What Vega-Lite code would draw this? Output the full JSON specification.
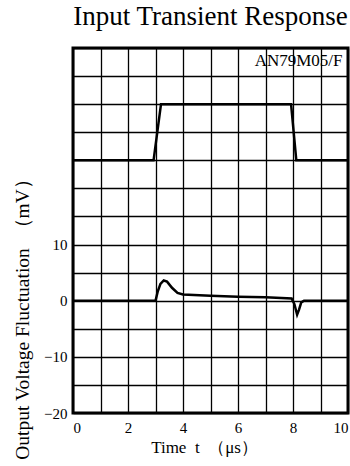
{
  "$schema": "https://vega.github.io/schema/vega-lite/v6.json",
  "width": 275,
  "height": 365,
  "autosize": {"type": "none"},
  "padding": {"left": 73, "top": 48, "right": 2, "bottom": 53},
  "background": "white",
  "title": {"text": "Input Transient Response", "font": "Liberation Serif", "fontSize": 27, "fontWeight": "normal", "color": "black", "anchor": "middle", "offset": 17},
  "config": {
    "view": {"stroke": "black", "strokeWidth": 3},
    "axis": {"labelFont": "Liberation Serif", "titleFont": "Liberation Serif", "labelColor": "black", "titleColor": "black", "titleFontWeight": "normal", "gridColor": "black", "gridOpacity": 1, "gridWidth": 1.3, "domain": false, "ticks": false}
  },
  "datasets": {
    "traces": [
      {"series": "input", "t": 0, "v": 25},
      {"series": "input", "t": 2.93, "v": 25},
      {"series": "input", "t": 3.2, "v": 35},
      {"series": "input", "t": 7.93, "v": 35},
      {"series": "input", "t": 8.12, "v": 25},
      {"series": "input", "t": 10, "v": 25},
      {"series": "output", "t": 0, "v": 0},
      {"series": "output", "t": 3.0, "v": 0},
      {"series": "output", "t": 3.08, "v": 1.6},
      {"series": "output", "t": 3.18, "v": 3.0},
      {"series": "output", "t": 3.3, "v": 3.6},
      {"series": "output", "t": 3.42, "v": 3.4},
      {"series": "output", "t": 3.6, "v": 2.3},
      {"series": "output", "t": 3.8, "v": 1.4},
      {"series": "output", "t": 4.0, "v": 1.1},
      {"series": "output", "t": 5.0, "v": 0.9},
      {"series": "output", "t": 6.0, "v": 0.7},
      {"series": "output", "t": 7.0, "v": 0.6},
      {"series": "output", "t": 7.95, "v": 0.4},
      {"series": "output", "t": 8.05, "v": -0.6},
      {"series": "output", "t": 8.15, "v": -2.5},
      {"series": "output", "t": 8.22, "v": -1.6},
      {"series": "output", "t": 8.3, "v": -0.3},
      {"series": "output", "t": 8.4, "v": 0},
      {"series": "output", "t": 10, "v": 0}
    ],
    "notes": [{"t": 9.8, "v": 42.7, "label": "AN79M05/F"}]
  },
  "layer": [
    {
      "data": {"name": "traces"},
      "mark": {"type": "line", "color": "black", "strokeWidth": 2.5, "clip": true},
      "encoding": {
        "x": {"field": "t", "type": "quantitative", "scale": {"domain": [0, 10], "nice": false},
          "axis": {"values": [0,1,2,3,4,5,6,7,8,9,10], "labelExpr": "datum.value % 2 === 0 ? datum.label : ''", "labelFontSize": 15, "labelPadding": 7, "title": "Time\u00a0\u00a0t\u00a0\u00a0（μs）", "titleFontSize": 17, "titlePadding": 4, "titleX": 131}},
        "y": {"field": "v", "type": "quantitative", "scale": {"domain": [-20, 45], "nice": false, "zero": false},
          "axis": {"values": [-20,-15,-10,-5,0,5,10,15,20,25,30,35,40,45], "labelExpr": "(datum.value % 10 === 0 && datum.value <= 10) ? datum.label : ''", "labelFontSize": 15, "labelPadding": 6, "title": "Output Voltage Fluctuation\u00a0\u00a0（mV）", "titleFontSize": 19.5, "titlePadding": 11, "titleY": 266}},
        "detail": {"field": "series"}
      }
    },
    {
      "data": {"name": "notes"},
      "mark": {"type": "text", "font": "Liberation Serif", "fontSize": 17, "align": "right", "baseline": "middle", "color": "black"},
      "encoding": {
        "x": {"field": "t", "type": "quantitative",
          "axis": {"values": [0,1,2,3,4,5,6,7,8,9,10], "labelExpr": "datum.value % 2 === 0 ? datum.label : ''", "labelFontSize": 15, "labelPadding": 7, "title": "Time\u00a0\u00a0t\u00a0\u00a0（μs）", "titleFontSize": 17, "titlePadding": 4, "titleX": 131}},
        "y": {"field": "v", "type": "quantitative",
          "axis": {"values": [-20,-15,-10,-5,0,5,10,15,20,25,30,35,40,45], "labelExpr": "(datum.value % 10 === 0 && datum.value <= 10) ? datum.label : ''", "labelFontSize": 15, "labelPadding": 6, "title": "Output Voltage Fluctuation\u00a0\u00a0（mV）", "titleFontSize": 19.5, "titlePadding": 11, "titleY": 266}},
        "text": {"field": "label"}
      }
    }
  ]
}
